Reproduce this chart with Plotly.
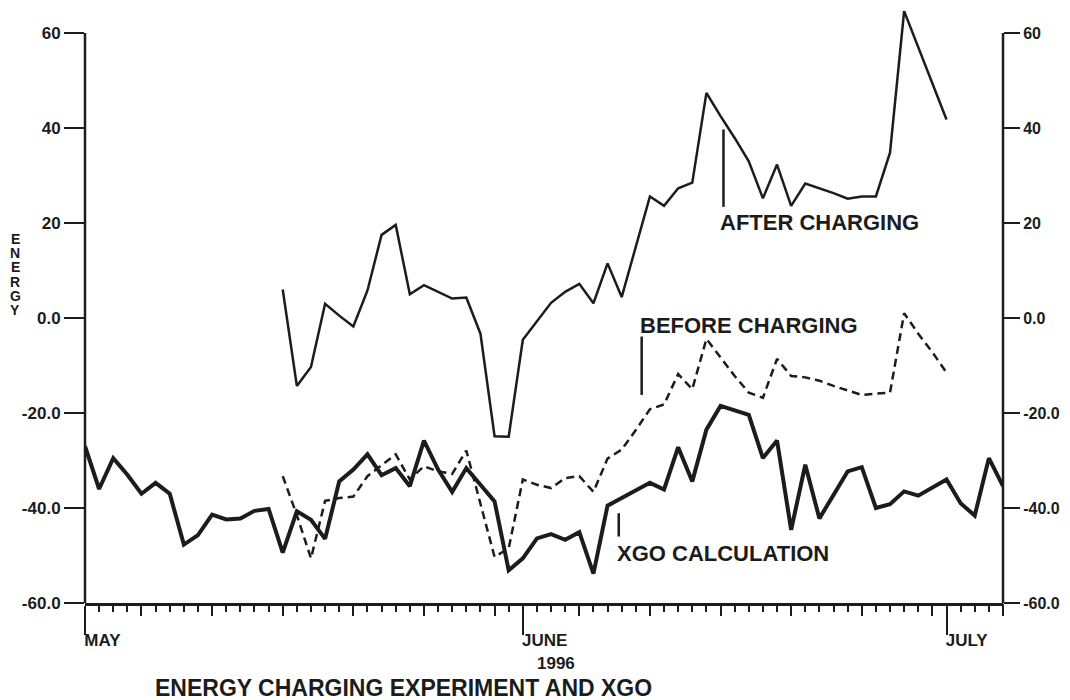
import pandas as pd
import plotly.graph_objects as go

# ---------------- data ----------------
start_date = "1996-05-01"
n_days = 66  # May 1 .. July 5, daily samples
dates = pd.date_range(start_date, periods=n_days, freq="D")

xgo_calc = [-27, -36, -29.5, -33, -37, -34.7, -37, -47.7, -45.7, -41.4,
            -42.4, -42.2, -40.6, -40.2, -49.4, -40.7, -42.5, -46.5, -34.4, -31.9,
            -28.7, -33.1, -31.6, -35.4, -25.8, -31.9, -36.6, -31.6, -35.1, -38.6,
            -53.1, -50.6, -46.4, -45.5, -46.7, -45.1, -53.8, -39.5, -37.9, -36.3,
            -34.7, -36.1, -27.2, -34.4, -23.5, -18.5, -19.4, -20.4, -29.5, -25.8,
            -44.6, -30.9, -42.2, -37.2, -32.3, -31.4, -40.0, -39.2, -36.5, -37.4,
            -35.8, -34.0, -39.0, -41.6, -29.5, -35.4]

before_charging = [None] * 14 + [
    -33.3, -41.5, -50.6, -38.5, -37.9, -37.6, -33.3, -30.9, -28.7, -34.0,
    -31.2, -32.3, -32.8, -27.9, -39.0, -50.3, -48.5, -34.0, -35.1, -35.8,
    -33.7, -33.3, -36.6, -29.6, -27.7, -23.6, -19.2, -18.2, -11.8, -15.0,
    -4.4, -8.3, -12.2, -15.7, -16.8, -8.6, -12.2, -12.5, -13.2, -14.3,
    -15.3, -16.2, -15.9, -15.7, 1.0, -3.3, -7.2, -11.5] + [None] * 4

after_charging = [None] * 14 + [
    6.0, -14.3, -10.3, 3.0, 0.5, -1.8, 5.8, 17.5, 19.6, 5.0,
    6.9, 5.5, 4.1, 4.3, -3.3, -24.9, -25.0, -4.6, -0.7, 3.2,
    5.5, 7.2, 3.1, 11.5, 4.4, 15.0, 25.6, 23.6, 27.3, 28.5,
    47.4, 42.5, 37.9, 33.0, 25.2, 32.3, 23.6, 28.3, 27.3, 26.3,
    25.1, 25.6, 25.6, 34.8, 64.6, 57.0, 49.4, 41.8] + [None] * 4

month_ticks = ["1996-05-01", "1996-06-01", "1996-07-01"]
month_labels = ["MAY", "JUNE", "JULY"]
five_day_ticks = ["1996-05-05", "1996-05-10", "1996-05-15", "1996-05-20", "1996-05-25",
                  "1996-05-30", "1996-06-05", "1996-06-10", "1996-06-15", "1996-06-20",
                  "1996-06-25", "1996-06-30", "1996-07-05"]
y_ticks = [-60, -40, -20, 0, 20, 40, 60]
y_tick_labels = ["-60.0", "-40.0", "-20.0", "0.0", "20", "40", "60"]
y_axis_min, y_axis_max = -60, 60
x_range = ["1996-05-01", "1996-07-05"]

# ---------------- layout geometry ----------------
# the page body has an 8px margin, so the figure is made 8px smaller and
# every placement below is expressed in page pixels minus that offset
OFF = 8
FIG_W, FIG_H = 1070 - OFF, 700 - OFF
PLOT_L, PLOT_R, PLOT_B = 85, 1003, 603          # page pixels of axes
PX_PER_UNIT = 4.75
plot_h = (PLOT_B - OFF)                          # plot top at figure y=0
Y_VIEW = [-60, -60 + plot_h / PX_PER_UNIT]       # headroom for the 65 peak

def paper_y(py):
    return (PLOT_B - py) / plot_h

def paper_x(px):
    return (px - PLOT_L) / (PLOT_R - PLOT_L)

# ---------------- figure ----------------
INK = "#1c1c1c"
FONT = "Liberation Sans"

fig = go.Figure()
fig.add_trace(go.Scatter(x=dates, y=xgo_calc, mode="lines", name="XGO CALCULATION",
                         line=dict(color=INK, width=4)))
fig.add_trace(go.Scatter(x=dates, y=after_charging, mode="lines", name="AFTER CHARGING",
                         line=dict(color=INK, width=2.5)))
fig.add_trace(go.Scatter(x=dates, y=before_charging, mode="lines", name="BEFORE CHARGING",
                         line=dict(color=INK, width=2.5, dash="8px,5px"),
                         xaxis="x2", yaxis="y2"))

tickfont = dict(family=FONT, size=17, color=INK, weight="bold")

fig.update_layout(
    width=FIG_W, height=FIG_H,
    margin=dict(l=PLOT_L - OFF, r=FIG_W - (PLOT_R - OFF), t=0, b=FIG_H - (PLOT_B - OFF)),
    paper_bgcolor="white", plot_bgcolor="white",
    showlegend=False,
    xaxis=dict(type="date", range=x_range, tickmode="array", automargin=False,
               tickvals=month_ticks, ticktext=month_labels,
               ticks="outside", ticklen=29, tickwidth=2, tickcolor=INK,
               ticklabelposition="outside right", ticklabelstandoff=20,
               ticklabelshift=-3,
               tickfont=dict(family=FONT, size=17, color=INK, weight="bold"),
               showline=True, linewidth=2.5, linecolor=INK,
               showgrid=False, zeroline=False,
               minor=dict(dtick=86400000, ticks="outside", ticklen=6,
                          tickwidth=2, tickcolor=INK, showgrid=False)),
    xaxis2=dict(type="date", range=x_range, overlaying="x", anchor="y2", side="bottom",
                tickmode="array", tickvals=five_day_ticks, showticklabels=False,
                automargin=False,
                ticks="outside", ticklen=12, tickwidth=2, tickcolor=INK,
                showline=False, showgrid=False, zeroline=False),
    yaxis=dict(range=Y_VIEW, tickmode="array", tickvals=y_ticks, ticktext=y_tick_labels,
               automargin=False,
               ticks="outside", ticklen=20, tickwidth=2, tickcolor=INK,
               tickfont=tickfont, showline=False,
               showgrid=False, zeroline=False),
    yaxis2=dict(range=Y_VIEW, overlaying="y", side="right", anchor="x2",
                automargin=False,
                tickmode="array", tickvals=y_ticks, ticktext=y_tick_labels,
                ticks="outside", ticklen=16, tickwidth=2, tickcolor=INK,
                tickfont=dict(family=FONT, size=16, color=INK, weight="bold"),
                showline=False, showgrid=False, zeroline=False),
)

# vertical axis lines, running only from -60 to 60 (left and right)
for xp in (0, 1):
    fig.add_shape(type="line", xref="paper", yref="y", x0=xp, x1=xp,
                  y0=y_axis_min, y1=y_axis_max, line=dict(color=INK, width=2.5))

# series labels with leader lines
label_font = dict(family=FONT, size=22, color=INK, weight="bold")
labels = [
    ("AFTER CHARGING", "1996-06-14 20:00", 20.1, "1996-06-15 05:00", 39.7, 23.4),
    ("BEFORE CHARGING", "1996-06-09 04:00", -1.5, "1996-06-09 10:00", -3.9, -16.2),
    ("XGO CALCULATION", "1996-06-07 12:00", -49.5, "1996-06-07 19:00", -41.1, -46.0),
]
for text, tx, ty, lx, ly0, ly1 in labels:
    fig.add_annotation(x=tx, y=ty, xref="x", yref="y", text=text, showarrow=False,
                       xanchor="left", yanchor="middle", font=label_font)
    fig.add_shape(type="line", xref="x", yref="y", x0=lx, x1=lx, y0=ly0, y1=ly1,
                  line=dict(color=INK, width=2.5))

# year under the month labels
fig.add_annotation(x=paper_x(535), y=paper_y(663), xref="paper", yref="paper", text="1996",
                   showarrow=False, xanchor="left", yanchor="middle",
                   font=dict(family=FONT, size=17, color=INK, weight="bold"))

# chart title at the bottom
fig.add_annotation(x=paper_x(153), y=paper_y(688), xref="paper", yref="paper",
                   text="ENERGY CHARGING EXPERIMENT AND XGO",
                   showarrow=False, xanchor="left", yanchor="middle",
                   font=dict(family=FONT, size=23, color=INK, weight="bold"))

# vertical axis title, one stacked letter at a time
axis_title_letters = list("ENERGY")
for i, ch in enumerate(axis_title_letters):
    py = 239 + 14.2 * i
    fig.add_annotation(x=paper_x(15), y=paper_y(py), xref="paper", yref="paper",
                       text=ch, showarrow=False, xanchor="center", yanchor="middle",
                       font=dict(family=FONT, size=14, color=INK, weight="bold"))

fig.write_html("out.html")
